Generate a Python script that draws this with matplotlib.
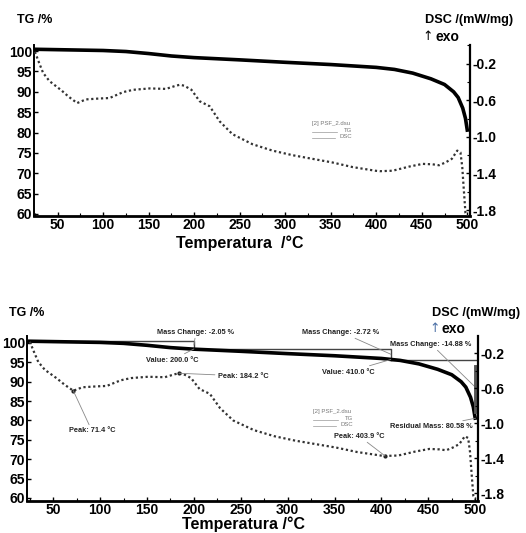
"""
TG / DSC curves of PSF_2 - plain and annotated versions.
"""
import numpy as np
import matplotlib
matplotlib.use('Agg')
import matplotlib.pyplot as plt
from matplotlib.ticker import MultipleLocator

plt.rcParams.update({
    "font.family": ["Liberation Sans", "DejaVu Sans"],
    "font.weight": "bold",
    "font.size": 9.5,
})

# ---- data ----
temps_tg = [25, 50, 75, 100, 125, 150, 175, 200, 250, 300, 350, 400,
            420, 440, 460, 475, 485, 490, 495, 498, 500]
tg = [100.45, 100.35, 100.25, 100.15, 99.9, 99.4, 98.8, 98.4, 97.85, 97.25,
      96.7, 96.0, 95.5, 94.6, 93.2, 91.8, 90.0, 88.6, 86.0, 83.5, 80.6]

temps_dsc = [25, 30, 34, 41, 54, 62, 71.4, 81, 96, 107, 122, 133, 151, 169,
             180, 184.2, 189, 197, 206, 217, 228, 242, 264, 286, 308, 330,
             352, 374, 399, 403.9, 418, 436, 451, 462, 469, 476, 483, 489,
             492.5, 494.5, 496, 498, 500]
dsc = [-0.07, -0.2, -0.3, -0.39, -0.49, -0.56, -0.63, -0.59, -0.58, -0.575,
       -0.51, -0.485, -0.47, -0.475, -0.44, -0.43, -0.44, -0.485, -0.61,
       -0.665, -0.83, -0.97, -1.08, -1.15, -1.2, -1.24, -1.28, -1.33, -1.37,
       -1.375, -1.37, -1.325, -1.295, -1.30, -1.31, -1.28, -1.24, -1.15,
       -1.17, -1.33, -1.55, -1.83, -1.87]

peaks = [71.4, 184.2, 403.9]
step_temps = [200.0, 410.0]
tg_start = 100.5
mass_changes = [-2.05, -2.72, -14.88]
residual = 80.58

W, H = 526, 533


def fpos(x, y):
    # image pixel -> figure fraction
    return x / W, 1 - y / H


def base_axes(fig, rect, xlim, ylim, ylim2):
    ax = fig.add_axes(rect)
    ax2 = ax.twinx()
    ax.plot(temps_tg, tg, color='black', lw=2.6, zorder=3)
    ax2.plot(temps_dsc, dsc, color='#333333', lw=1.6, ls=(0, (1, 1.2)))
    ax.set_xlim(*xlim)
    ax.set_ylim(*ylim)
    ax2.set_ylim(*ylim2)
    ax.xaxis.set_major_locator(MultipleLocator(50))
    ax.xaxis.set_minor_locator(MultipleLocator(25))
    ax.yaxis.set_major_locator(MultipleLocator(5))
    ax2.yaxis.set_minor_locator(MultipleLocator(0.2))
    ax2.set_yticks([-0.2, -0.6, -1.0, -1.4, -1.8])
    ax2.set_yticklabels(['-0.2', '-0.6', '-1.0', '-1.4', '-1.8'])
    for a in (ax, ax2):
        a.spines['top'].set_visible(False)
        a.tick_params(which='major', direction='in', length=3, width=1,
                      labelsize=10, pad=1.5)
        a.tick_params(which='minor', direction='in', length=2, width=0.8)
    ax.spines['right'].set_visible(False)
    ax.spines['left'].set_linewidth(1.4)
    ax.spines['bottom'].set_linewidth(2)
    ax2.spines['left'].set_visible(False)
    ax2.spines['bottom'].set_visible(False)
    ax2.spines['right'].set_linewidth(1.6)
    for lab in ax.get_xticklabels() + ax.get_yticklabels() + ax2.get_yticklabels():
        lab.set_fontweight('bold')
    return ax, ax2


def small_legend(fig, x, y):
    gray = '#777777'
    fig.text(*fpos(x, y), '[2] PSF_2.dsu', fontsize=4.3, color=gray,
             fontweight='normal', va='center')
    fig.text(*fpos(x + 40, y + 7), 'TG', fontsize=4.3, color=gray,
             fontweight='normal', va='center', ha='right')
    fig.text(*fpos(x + 40, y + 14), 'DSC', fontsize=4.3, color=gray,
             fontweight='normal', va='center', ha='right')
    for dy, x1 in ((9, x + 25), (15, x + 23)):
        x0f, yf = fpos(x, y + dy)
        x1f, _ = fpos(x1, y + dy)
        fig.add_artist(plt.Line2D([x0f, x1f], [yf, yf], color='#999999', lw=0.5))


def header(fig, ytop, yexo, xdsc, xtg, arrow_color='black'):
    fig.text(*fpos(xtg, ytop), 'TG /%', fontsize=9, va='center', ha='left')
    fig.text(*fpos(xdsc, ytop), 'DSC /(mW/mg)', fontsize=9.2, va='center',
             ha='right')
    fig.text(*fpos(xdsc - 91, yexo), '↑', fontsize=9, va='center', ha='left',
             color=arrow_color, fontweight='normal', family='DejaVu Sans')
    fig.text(*fpos(xdsc - 78, yexo), 'exo', fontsize=10, va='center', ha='left')


fig = plt.figure(figsize=(W / 100, H / 100), dpi=100)

# ---------------- top panel ----------------
axA, axA2 = base_axes(fig, [34 / W, 1 - 216 / H, 436 / W, 171 / H],
                      (24, 503), (59.5, 101.5), (-1.865, 0.005))
header(fig, 20, 37, 513, 17)
fig.text(*fpos(240, 243), 'Temperatura  /°C', fontsize=11.5, ha='center',
         va='center')
small_legend(fig, 312, 123)

# ---------------- bottom panel ----------------
axB, axB2 = base_axes(fig, [27 / W, 1 - 501 / H, 451 / W, 165 / H],
                      (22, 503), (59.2, 101.8), (-1.89, -0.004))
header(fig, 313, 329, 520, 9, arrow_color='#4a6fa5')
fig.text(*fpos(244, 524), 'Temperatura /°C', fontsize=11.5, ha='center',
         va='center')
small_legend(fig, 313, 411)

# mass-change steps
levels = [tg_start]
for mc in mass_changes[:-1]:
    levels.append(levels[-1] + mc)
lc = '#444444'
axB.plot([axB.get_xlim()[0], step_temps[0], step_temps[0]],
         [levels[0], levels[0], levels[1]], color=lc, lw=1.0)
axB.plot([step_temps[0], step_temps[1], step_temps[1]],
         [levels[1], levels[1], levels[2]], color=lc, lw=1.0)
axB.plot([step_temps[1], 502], [levels[2], levels[2]], color=lc, lw=1.0)
axB.plot([500.5, 500.5], [93.8, residual + 1.5], color='#555555', lw=2.8,
         zorder=4)

ann = dict(fontsize=5.3, color='#222222', ha='center', va='center',
           textcoords='figure fraction',
           arrowprops=dict(arrowstyle='-', color='#888888', lw=0.6,
                           shrinkA=0, shrinkB=0))
axB.annotate(f'Mass Change: {mass_changes[0]:.2f} %',
             xy=(step_temps[0], (levels[0] + levels[1]) / 2),
             xytext=fpos(196, 332), **ann)
axB.annotate(f'Value: {step_temps[0]:.1f} °C', xy=(step_temps[0], levels[1]),
             xytext=fpos(172, 360), **ann)
axB.annotate(f'Mass Change: {mass_changes[1]:.2f} %',
             xy=(step_temps[1], (levels[1] + levels[2]) / 2),
             xytext=fpos(341, 332), **ann)
axB.annotate(f'Value: {step_temps[1]:.1f} °C', xy=(step_temps[1], levels[2]),
             xytext=fpos(348, 372), **ann)
axB.annotate(f'Mass Change: {mass_changes[2]:.2f} %', xy=(500.5, 88.5),
             xytext=fpos(431, 344), **ann)
axB.annotate(f'Residual Mass: {residual:.2f} %', xy=(500.5, residual),
             xytext=fpos(431, 427), **ann)

peak_pos = [(92, 431), (243, 376), (359, 436)]
for pt, (px, py) in zip(peaks, peak_pos):
    yv = np.interp(pt, temps_dsc, dsc)
    axB2.plot([pt], [yv], marker='o', ms=2, color='#222222')
    axB2.annotate(f'Peak: {pt:.1f} °C', xy=(pt, yv), xytext=fpos(px, py), **ann)

fig.savefig('out.png', dpi=100)
plt.close(fig)
